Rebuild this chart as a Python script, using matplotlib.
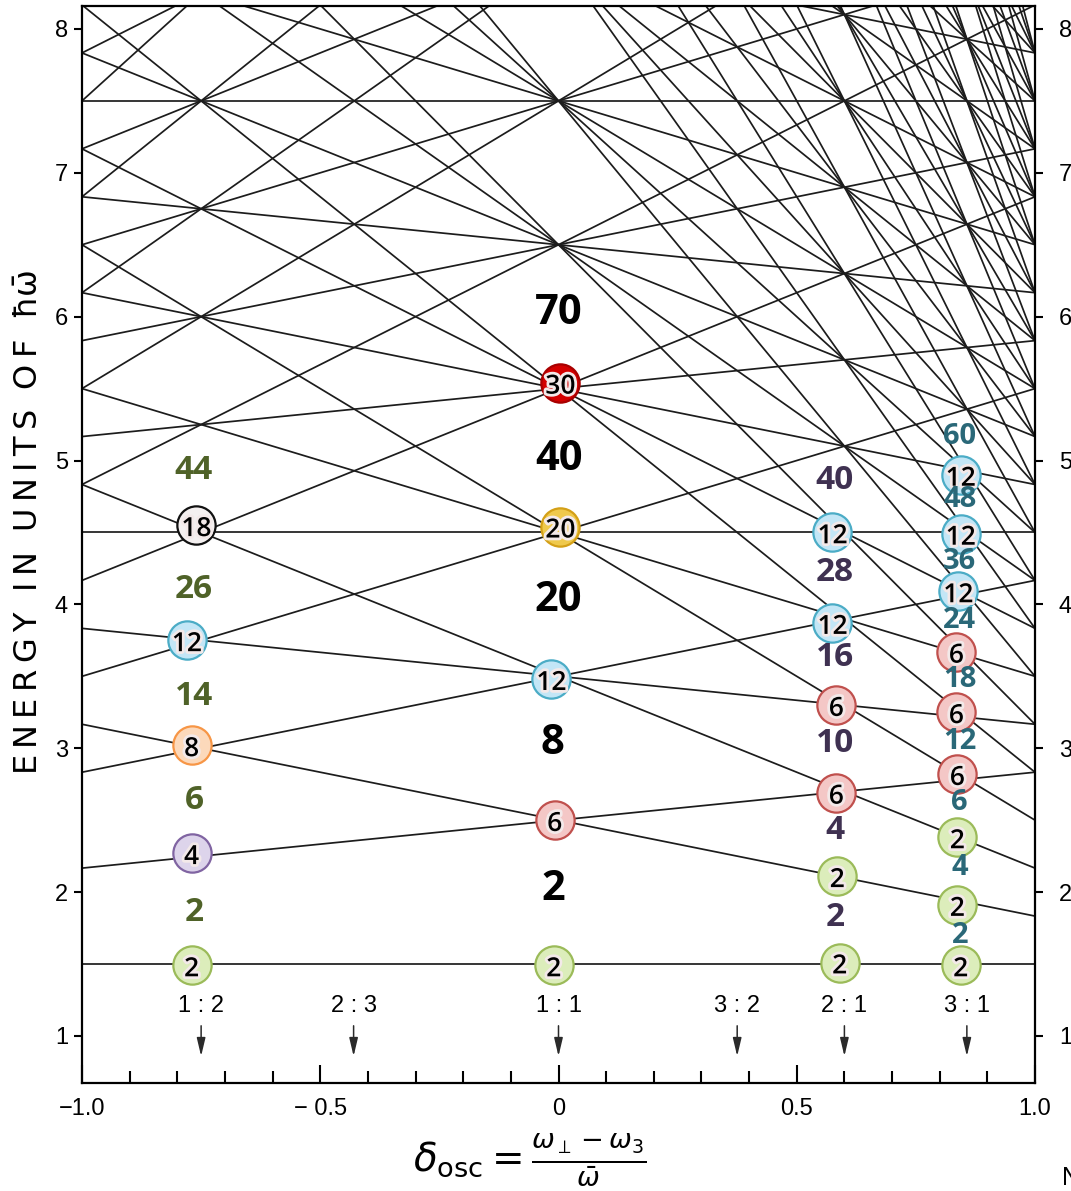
import numpy as np
import matplotlib
matplotlib.use("Agg")
import matplotlib.pyplot as plt
import matplotlib.patheffects as pe
from matplotlib.ticker import MultipleLocator

plt.rcParams["font.family"] = ["Liberation Sans", "DejaVu Sans"]
plt.rcParams["mathtext.fontset"] = "dejavusans"

# oscillator shells N = n_perp + n_3 that reach into the window
max_shell = 20

# frequency ratios omega_perp : omega_3 marked under the levels
ratio_labels = ["1 : 2", "2 : 3", "1 : 1", "3 : 2", "2 : 1", "3 : 1"]
ratio_delta = [-0.75, -0.43, 0.0, 0.375, 0.6, 0.857]

# degeneracy balls (delta, energy, number, colour key)
ball_delta = [-0.77, -0.77, -0.77, -0.78, -0.76,
              -0.01, -0.008, -0.015, 0.004, 0.004,
              0.59, 0.585, 0.583, 0.583, 0.575, 0.575,
              0.844, 0.837, 0.837, 0.837, 0.835, 0.835, 0.839, 0.844, 0.844]
ball_energy = [1.49, 2.27, 3.02, 3.75, 4.55,
               1.49, 2.50, 3.48, 4.54, 5.54,
               1.51, 2.11, 2.69, 3.30, 3.87, 4.50,
               1.49, 1.91, 2.38, 2.82, 3.25, 3.67, 4.09, 4.49, 4.90]
ball_number = [2, 4, 8, 12, 18,
               2, 6, 12, 20, 30,
               2, 2, 6, 6, 12, 12,
               2, 2, 2, 6, 6, 6, 12, 12, 12]
ball_kind = ["green", "purple", "orange", "blue", "white",
             "green", "red", "blue", "gold", "darkred",
             "green", "green", "red", "red", "blue", "blue",
             "green", "green", "green", "red", "red", "red", "blue", "blue", "blue"]

# magic numbers per column
magic_12_delta = -0.765
magic_12_energy = [1.86, 2.64, 3.36, 4.10, 4.93]
magic_12 = [2, 6, 14, 26, 44]

magic_11_delta = [-0.01, -0.012, 0.0, 0.0, 0.0]
magic_11_energy = [2.02, 3.03, 4.03, 5.01, 6.02]
magic_11 = [2, 8, 20, 40, 70]

magic_21_delta = 0.58
magic_21_energy = [1.82, 2.43, 3.03, 3.63, 4.22, 4.86]
magic_21 = [2, 4, 10, 16, 28, 40]

magic_31_delta = 0.842
magic_31_energy = [1.70, 2.17, 2.62, 3.05, 3.48, 3.89, 4.30, 4.73, 5.17]
magic_31 = [2, 4, 6, 12, 18, 24, 36, 48, 60]

ball_colors = {
    "green": ("#dcedbb", "#9bbb59"),
    "purple": ("#ddd4eb", "#8064a2"),
    "orange": ("#fcd9bb", "#f79646"),
    "blue": ("#c3e6f6", "#4bacc6"),
    "red": ("#f4c7c6", "#c0504d"),
    "gold": ("#efc94c", "#d4a017"),
    "darkred": ("#d40000", "#a80000"),
    "white": ("#f4f0f0", "#111111"),
}

W, H = 1071, 1191
fig = plt.figure(figsize=(W / 100, H / 100), dpi=100)
ax = fig.add_axes([82 / W, 1 - 1083 / H, (1035 - 82) / W, (1083 - 5.5) / H])

# level lines E = N + 3/2 + delta (n_perp - 2 n_3) / 3
d = np.array([-1.0, 1.0])
for N in range(max_shell + 1):
    for n3 in range(N + 1):
        nperp = N - n3
        ax.plot(d, N + 1.5 + d * (nperp - 2 * n3) / 3, color="#1c1c1c", lw=1.25, zorder=1)

ax.set_xlim(-1, 1)
ax.set_ylim(0.673, 8.163)

for sp in ax.spines.values():
    sp.set_linewidth(1.6)

ax.set_xticks([-1.0, -0.5, 0.0, 0.5, 1.0])
ax.set_xticklabels(["\u22121.0", "\u2212 0.5", "0", "0.5", "1.0"])
ax.xaxis.set_minor_locator(MultipleLocator(0.1))
ax.tick_params(axis="x", which="major", direction="in", length=13, width=1.5,
               labelsize=17, pad=11, top=False)
ax.tick_params(axis="x", which="minor", direction="in", length=9, width=1.5, top=False)
ax.set_yticks(range(1, 9))
ax.tick_params(axis="y", which="major", direction="out", length=6, width=1.5,
               labelsize=17, pad=4, left=True, right=True, labelleft=True, labelright=True)
for t in ax.yaxis.get_major_ticks():
    t.label2.set_x(1.0 + 10 / 953)

# ratio arrows
for lab, x in zip(ratio_labels, ratio_delta):
    ax.text(x, 1.21, lab, ha="center", va="center", fontsize=17, zorder=5)
    ax.annotate("", xy=(x, 0.84), xytext=(x, 1.09),
                arrowprops=dict(arrowstyle="-|>,head_length=0.55,head_width=0.13",
                                color="#2a2a2a", lw=1.1, mutation_scale=20))

# balls
halo = [pe.withStroke(linewidth=4, foreground="#f3e9e9")]
for x, y, n, k in zip(ball_delta, ball_energy, ball_number, ball_kind):
    fc, ec = ball_colors[k]
    ax.scatter(x, y, s=760, c=fc, edgecolors=ec, linewidths=1.6, zorder=4)
    ax.text(x, y - 0.03, str(n), ha="center", va="center", fontsize=19,
            family="Open Sans", fontweight="semibold", color="black",
            path_effects=halo, zorder=6)

mfont = dict(ha="center", va="center", family="Open Sans", fontweight="bold", zorder=6)
for y, m in zip(magic_12_energy, magic_12):
    ax.text(magic_12_delta, y, str(m), fontsize=24, color="#4f6228", **mfont)
for x, y, m in zip(magic_11_delta, magic_11_energy, magic_11):
    ax.text(x, y, str(m), fontsize=30, color="black", **mfont)
for y, m in zip(magic_21_energy, magic_21):
    ax.text(magic_21_delta, y, str(m), fontsize=24, color="#3f3151", **mfont)
for y, m in zip(magic_31_energy, magic_31):
    ax.text(magic_31_delta, y, str(m), fontsize=21, color="#2a6878", **mfont)

# axis titles
ylab = "  ".join("\u2009".join(w) for w in ["ENERGY", "IN", "UNITS", "OF"])
ylab += "  \u0127" + r"$\bar{\mathrm{\omega}}$"
fig.text(30 / W, 1 - 522 / H, ylab, rotation=90, ha="center", va="center",
         fontsize=23, family="DejaVu Sans")
fig.text(530 / W, 1 - 1160 / H,
         r"$\delta_{\mathrm{osc}} = \frac{\omega_{\perp} - \omega_3}{\bar{\omega}}$",
         ha="center", va="center", fontsize=28)
fig.text(1062 / W, 1 - 1178 / H, "N", ha="left", va="center", fontsize=18)

fig.savefig("out.png", dpi=100, facecolor="white")
